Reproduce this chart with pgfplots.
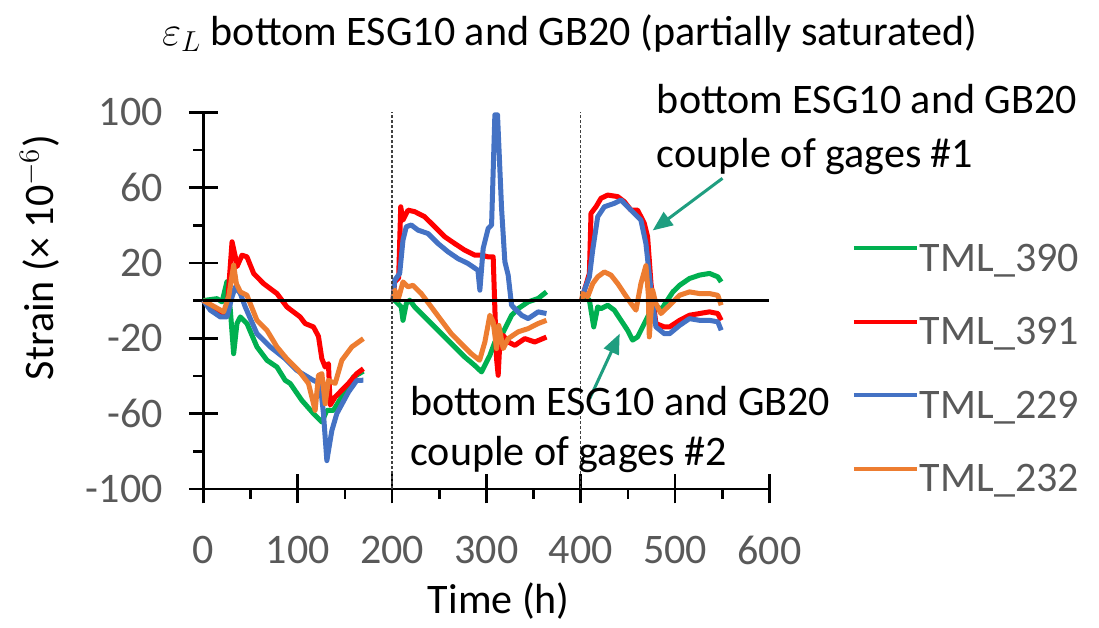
\documentclass[border=0pt]{standalone}
\usepackage{fontspec}
\setmainfont{Carlito}
\usepackage{pgfplots}
\pgfplotsset{compat=1.18}
\usetikzlibrary{arrows.meta,calc}
\definecolor{c390}{HTML}{00B050}
\definecolor{c391}{HTML}{FF0000}
\definecolor{c229}{HTML}{4472C4}
\definecolor{c232}{HTML}{ED7D31}
\definecolor{tickgrey}{HTML}{595959}
\definecolor{arrowcol}{HTML}{1F9E80}
\newcommand{\fs}{\fontsize{21}{25}\selectfont}

\begin{document}
\begin{tikzpicture}
\begin{axis}[
  name=ax,
  scale only axis, width=282.5pt, height=188pt,
  xmin=0, xmax=600, ymin=-100, ymax=100,
  axis lines*=left,
  axis line style={line width=1.3pt},
  clip=false,
  unbounded coords=jump,
  xtick={0,100,...,600},
  xticklabels={0,100,200,300,400,500,600},
  minor x tick num=1,
  ytick={-100,-60,-20,20,60,100},
  yticklabels={-100,-60,-20,20,60,100},
  minor ytick={-80,-40,0,40,80},
  tick align=center,
  major tick length=14.5pt,
  minor tick length=5pt,
  tick style={black, line width=1.3pt},
  every minor x tick/.append style={yshift=-2.5pt},
  every minor y tick/.append style={xshift=-2.5pt},
  tick label style={font=\fs, text=tickgrey},
  xticklabel style={yshift=-13pt},
  yticklabel style={xshift=-9.5pt},
  legend style={at={(1.145,0.314)}, anchor=west, draw=none, fill=none,
    font=\fs, text=tickgrey, row sep=16.7pt, inner sep=0pt,
    nodes={inner sep=0.5pt, text height=15pt, text depth=4pt}},
  legend cell align=left,
  legend image code/.code={\draw[#1, line width=2pt] (0pt,6pt) -- (31.5pt,6pt);},
  every axis plot/.append style={line width=2.5pt, line join=round},
]
\addplot[c390] coordinates {
(0,0)(7,0.5)(14.5,1)(19.8,-0.7)(25,10)(28.6,-5.1)(32.1,-28.2)(35.6,-12.2)(39.2,-8.7)(46.2,-12.2)
(56.8,-24.6)(67.4,-31.7)(78,-35.3)(86.8,-42.4)(92,-44)(104.4,-53)(116.7,-60)(125.6,-64.5)
(130.9,-58.3)(137.9,-58.3)(148.5,-49.5)(153.8,-45.9)(159,-40.6)(169.6,-37.5)
(185,nan)
(201,0)(202.8,0.2)(209.8,-3.4)(211.6,-10.5)(215.1,-1.6)(218.7,0.2)(224,-3.4)(234.6,-8.7)
(245.2,-14)(255.8,-19.3)(266.3,-24.6)(276.9,-29.9)(287.5,-34.4)(294.9,-37.9)(303.7,-29.1)
(309,-22)(316.1,-18.5)(321.4,-13.2)(326.7,-7.8)(333.7,-4.3)(344.3,-0.7)(354.9,1.1)(363.7,4.6)
(385,nan)
(401,0)(403.9,2)(409.2,0.2)(413.8,-14)(418,-3.4)(421.5,-4.3)(428.6,-2.5)(435.6,-5.1)
(442.7,-10.5)(449.7,-15.8)(455,-21)(460.3,-19.3)(467.4,-12.2)(472.7,-6.9)(478,-1.6)(485,-5.1)
(490.7,-0.7)(497.7,4.6)(504.8,8.1)(515.3,11.7)(525.9,13.5)(536.5,14.4)(545.3,12.6)(548.9,9.9)
};
\addlegendentry{TML\_390}
\addplot[c391] coordinates {
(0,0)(7.4,-3.2)(21.5,-7.8)(25,-6)(30.4,31.2)(33.9,23.2)(35.6,18)(41,24.1)(46.2,23.2)(53.3,14.4)
(63.8,9)(78,3.7)(88.6,-3.4)(102.6,-8.7)(107.9,-12.2)(116.7,-14)(122,-19)(125.6,-30.9)
(129.1,-35.3)(132.6,-33.5)(134.4,-55.5)(139.7,-51.2)(153.8,-44)(162.6,-38.8)(169.6,-36.2)
(185,nan)
(201,0)(202.8,9.9)(207,12)(209.2,49.8)(211.6,42.7)(216.9,48)(224,47.2)(234.6,44.5)(245.2,39.2)
(255.8,33.9)(266.3,30.3)(276.9,26.8)(287.8,24.1)(294.9,24.1)(301.9,23.2)(307.2,23.2)(309,-4.3)
(310.8,-30.9)(312.5,-39.7)(314.3,-22)(317.8,-18.5)(323.1,-22)(330.2,-23.8)(340.7,-20.2)
(351.3,-22)(363.7,-19.4)
(385,nan)
(401,0)(403.9,5.5)(409.2,14.4)(410.9,46.3)(416.2,49.8)(421.5,54.3)(428.6,56)(439.2,55.2)
(446.2,52.5)(453.3,48)(460.3,48)(467.4,41)(470.9,33.9)(474.5,9)(479.7,-12.2)(488.6,-14)
(494.2,-14)(504.8,-10.5)(515.3,-7.8)(525.9,-6.9)(536.5,-6)(545.3,-6.9)(548.9,-10.5)
};
\addlegendentry{TML\_391}
\addplot[c229] coordinates {
(0,0)(7.4,-5.1)(18,-8.7)(25,-8.7)(30.4,2)(33.9,7.3)(39.2,3.7)(44.4,-3.4)(56.8,-17.6)(70.9,-24.6)
(86.8,-30.9)(99.2,-37.1)(116.7,-42.4)(123.8,-44)(127.3,-60)(130.9,-85)(136.2,-69)(141.5,-60)
(153.8,-48.6)(162.6,-42.4)(169.6,-42.3)
(185,nan)
(201,0)(202.8,10.8)(208.1,14.4)(211.6,32.1)(215.1,39.2)(220.4,40.1)(227.5,37.4)(238.1,35.6)
(248.7,30.3)(259.3,25.9)(269.8,22.3)(280.4,19.7)(291,16.1)(293.1,5.5)(296.6,27.7)(301.9,38.3)
(305.5,40.1)(309,98.6)(311.8,98.6)(316.1,48.9)(319.6,20.6)(323.1,13.5)(326.7,-2.5)(330.2,-4.3)
(337.3,-7.8)(344.3,-9.6)(354.9,-6)(363.7,-6.9)
(385,nan)
(401,0)(403.9,5.5)(409.2,12.6)(412.7,26.8)(418,44.5)(425.1,49.8)(435.6,51.6)(442.7,53.4)
(449.7,49.8)(456.8,46.3)(463.8,42.7)(469.1,30.3)(474.5,5.5)(479.7,-14)(488.6,-17.6)(494.2,-17.6)
(504.8,-13.2)(515.3,-9.6)(525.9,-10.5)(536.5,-10.5)(545.3,-11.3)(548.9,-15.8)
};
\addlegendentry{TML\_229}
\addplot[c232] coordinates {
(0,0)(21.5,-6)(26.8,2)(32.1,18.8)(35,9)(39.2,4.6)(46.2,2.8)(49.7,-1.6)(56.8,-10.5)(67.4,-15.8)
(78,-24.6)(88.6,-31)(100.8,-37.1)(111.4,-44)(118.5,-58.3)(122,-39.7)(125.6,-38.8)(129.1,-54.8)
(132.6,-42.4)(139.7,-44)(146.8,-31.7)(157.4,-24.6)(169.6,-20.2)
(185,nan)
(201,0)(203,5.5)(206.3,0.2)(211.6,9.9)(216.9,7.3)(222.2,8.1)(231,3.7)(241.6,-3.4)(252.2,-10.5)
(262.8,-17.6)(273.3,-22.9)(283.9,-28.2)(292.8,-31.7)(298.4,-22)(303.7,-7.8)(307.2,-11.3)
(310.8,-25.5)(313.2,-13.2)(317.8,-25.5)(323.1,-20.2)(333.7,-16.6)(344.3,-14.9)(354.9,-12.2)
(363.7,-10.5)
(385,nan)
(401,0)(402.1,3.7)(407.4,2)(412.7,9)(418,12.6)(425.1,15.2)(432.1,13.5)(439.2,9)(446.2,3.7)
(453.3,-1.6)(458.6,-5.1)(463.8,9)(469.1,18.5)(471.6,3.7)(472.7,-19.3)(476.2,5.5)(479.7,-1.6)
(485,-6.9)(494.2,-2.5)(504.8,2.8)(515.3,4.6)(525.9,3.7)(536.5,3.7)(545.3,2.8)(548.9,-2.5)
};
\addlegendentry{TML\_232}
% reference lines
\draw[line width=1.5pt] (axis cs:0,0) -- (axis cs:600,0);
\draw[line width=0.6pt, black!75, dash pattern=on 1.5pt off 1pt] (axis cs:200,-100) -- (axis cs:200,100);
\draw[line width=0.6pt, black!75, dash pattern=on 1.5pt off 1pt] (axis cs:400,-100) -- (axis cs:400,100);
% annotations
\draw[arrowcol, line width=1.5pt, -{Triangle[length=10pt,width=8pt]}] (axis cs:550.3,64.9) -- (axis cs:476.2,37.2);
\draw[arrowcol, line width=1.5pt, -{Triangle[length=10pt,width=8pt]}] (axis cs:409.5,-52.1) -- (axis cs:441.3,-17.6);
\node[font=\fs, anchor=base west, inner sep=0pt] at (rel axis cs:0.8007,0.997) {bottom ESG10 and GB20};
\node[font=\fs, anchor=base west, inner sep=0pt] at (rel axis cs:0.8007,0.854) {couple of gages \#1};
\node[font=\fs, anchor=base west, inner sep=0pt] at (rel axis cs:0.365,0.194) {bottom ESG10 and GB20};
\node[font=\fs, anchor=base west, inner sep=0pt] at (rel axis cs:0.365,0.061) {couple of gages \#2};
% titles and labels
\node[font=\fs, anchor=base, inner sep=0pt] at (rel axis cs:0.647,1.178) {$\varepsilon_L$ bottom ESG10 and GB20 (partially saturated)};
\node[font=\fs, anchor=base, inner sep=0pt] at (rel axis cs:0.522,-0.332) {Time (h)};
\node[font=\fs, anchor=base, inner sep=0pt, rotate=90] at (rel axis cs:-0.2646,0.614) {Strain (× 10$^{-6}$)};
\end{axis}
\pgfresetboundingbox
\path[use as bounding box] ($(ax.south west)+(-101.5pt,-69pt)$) rectangle ($(ax.north east)+(164.5pt,56pt)$);
\end{tikzpicture}
\end{document}
